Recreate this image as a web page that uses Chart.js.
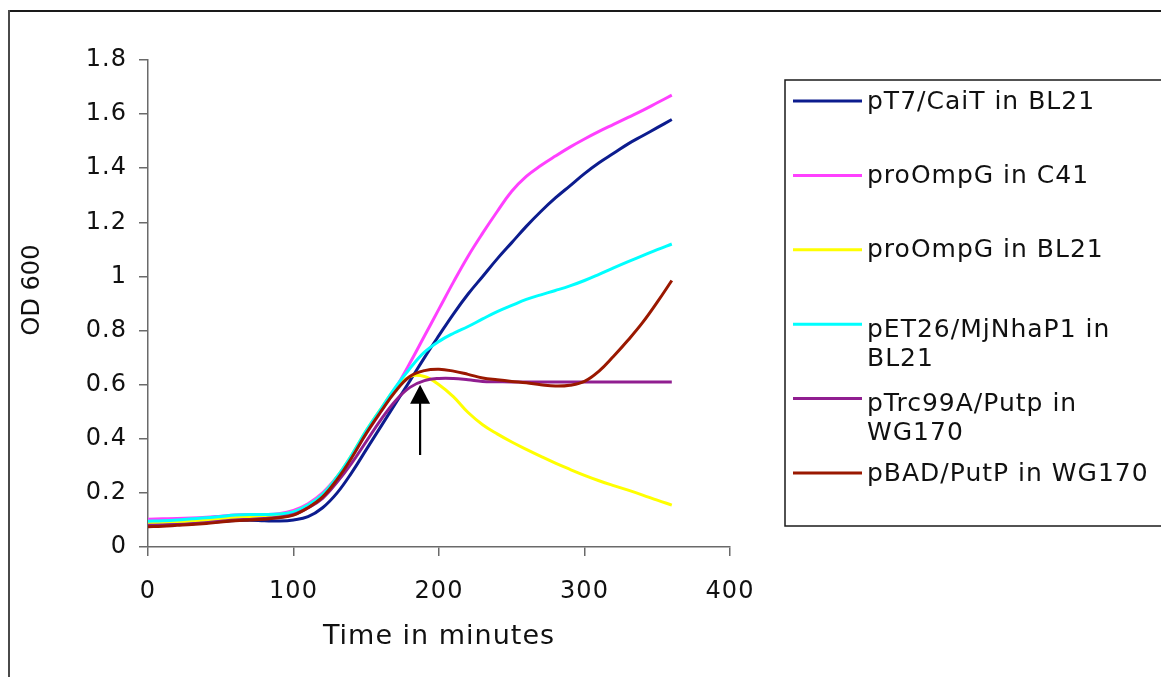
<!DOCTYPE html>
<html>
<head>
<meta charset="utf-8">
<script src="https://cdn.jsdelivr.net/npm/chart.js@4.4.1/dist/chart.umd.min.js"></script>
<style>
  html, body { margin: 0; padding: 0; background: #ffffff; }
  #wrap { position: relative; width: 1161px; height: 677px; }
  canvas { display: block; }
</style>
</head>
<body>
<div id="wrap"><canvas id="growth" width="1161" height="677"></canvas></div>
<script>
// Sampling times (minutes after inoculation), every 10 minutes
const minutes = [0, 10, 20, 30, 40, 50, 60, 70, 80, 90, 100, 110, 120, 130, 140, 150, 160, 170, 180,
                 190, 200, 210, 220, 230, 240, 250, 260, 270, 280, 290, 300, 310, 320, 330, 340, 350, 360];

// Strain / construct names
const seriesNames = [
  'pT7/CaiT in BL21',
  'proOmpG in C41',
  'proOmpG in BL21',
  'pET26/MjNhaP1 in BL21',
  'pTrc99A/Putp in WG170',
  'pBAD/PutP in WG170'
];

// OD600 readings per culture
const caiT_BL21  = [0.080, 0.081, 0.083, 0.086, 0.090, 0.094, 0.098, 0.099, 0.097, 0.096, 0.100, 0.112, 0.145, 0.200, 0.275, 0.360, 0.445, 0.530, 0.614,
                    0.700, 0.782, 0.862, 0.935, 1.000, 1.065, 1.125, 1.185, 1.240, 1.290, 1.335, 1.380, 1.420, 1.455, 1.490, 1.520, 1.550, 1.580];
const ompG_C41   = [0.103, 0.104, 0.105, 0.107, 0.110, 0.114, 0.118, 0.120, 0.120, 0.123, 0.135, 0.160, 0.200, 0.260, 0.335, 0.420, 0.500, 0.585, 0.680,
                    0.780, 0.880, 0.980, 1.075, 1.160, 1.240, 1.315, 1.370, 1.410, 1.445, 1.478, 1.508, 1.536, 1.562, 1.588, 1.614, 1.642, 1.670];
const ompG_BL21  = [0.090, 0.091, 0.093, 0.096, 0.100, 0.104, 0.108, 0.112, 0.115, 0.120, 0.130, 0.155, 0.195, 0.260, 0.340, 0.430, 0.510, 0.585, 0.630,
                    0.630, 0.600, 0.555, 0.497, 0.452, 0.418, 0.388, 0.361, 0.335, 0.310, 0.287, 0.265, 0.245, 0.227, 0.210, 0.192, 0.173, 0.155];
const nhaP1_BL21 = [0.095, 0.097, 0.100, 0.104, 0.108, 0.113, 0.118, 0.120, 0.120, 0.122, 0.130, 0.155, 0.195, 0.260, 0.340, 0.430, 0.510, 0.590, 0.660,
                    0.720, 0.760, 0.790, 0.815, 0.843, 0.870, 0.893, 0.915, 0.932, 0.948, 0.965, 0.985, 1.008, 1.032, 1.055, 1.077, 1.099, 1.120];
const trcPutP    = [0.080, 0.081, 0.083, 0.086, 0.090, 0.095, 0.100, 0.102, 0.105, 0.110, 0.120, 0.145, 0.180, 0.240, 0.310, 0.390, 0.470, 0.540, 0.590,
                    0.615, 0.623, 0.623, 0.618, 0.612, 0.611, 0.610, 0.610, 0.610, 0.610, 0.610, 0.610, 0.610, 0.610, 0.610, 0.610, 0.610, 0.610];
const badPutP    = [0.075, 0.077, 0.080, 0.083, 0.087, 0.092, 0.097, 0.100, 0.103, 0.108, 0.118, 0.145, 0.185, 0.250, 0.330, 0.420, 0.500, 0.575, 0.630,
                    0.652, 0.657, 0.650, 0.638, 0.625, 0.618, 0.612, 0.607, 0.600, 0.595, 0.598, 0.612, 0.650, 0.705, 0.765, 0.830, 0.905, 0.985];

const seriesValues = [caiT_BL21, ompG_C41, ompG_BL21, nhaP1_BL21, trcPutP, badPutP];
const seriesColors = ['#0c1c8e', '#ff40ff', '#ffff00', '#00ffff', '#901e90', '#9a1800'];

// Axis ticks
const xTicks = [0, 100, 200, 300, 400];
const yTicks = [0, 0.2, 0.4, 0.6, 0.8, 1.0, 1.2, 1.4, 1.6, 1.8];
const yTickLabels = ['0', '0.2', '0.4', '0.6', '0.8', '1', '1.2', '1.4', '1.6', '1.8'];

// Induction marker (minutes, OD range of the arrow)
const inductionTime = 187;
const arrowFrom = 0.34;
const arrowTo = 0.60;

const FONT = "'DejaVu Sans', Verdana, sans-serif";
const AXIS_GREY = '#6a6a6a';

const datasets = seriesNames.map((name, i) => ({
  label: name,
  data: minutes.map((t, k) => ({ x: t, y: seriesValues[i][k] })),
  borderColor: seriesColors[i],
  backgroundColor: seriesColors[i],
  borderWidth: 3,
  pointRadius: 0,
  tension: 0.4,
  fill: false,
  order: seriesNames.length - i
}));

// Outer frame of the figure
const framePlugin = {
  id: 'frame',
  beforeDraw(chart) {
    const ctx = chart.ctx;
    ctx.save();
    ctx.fillStyle = '#ffffff';
    ctx.fillRect(0, 0, chart.width, chart.height);
    ctx.lineWidth = 2;
    ctx.strokeStyle = '#1a1a1a';
    ctx.beginPath();
    ctx.moveTo(9, 11);
    ctx.lineTo(chart.width + 2, 11);
    ctx.stroke();
    ctx.strokeStyle = '#4a4a4a';
    ctx.beginPath();
    ctx.moveTo(9, 10);
    ctx.lineTo(9, chart.height + 2);
    ctx.stroke();
    ctx.restore();
    ctx.letterSpacing = '1px';
  }
};

// Arrow marking the induction point
const arrowPlugin = {
  id: 'inductionArrow',
  afterDatasetsDraw(chart) {
    const ctx = chart.ctx;
    const xs = chart.scales.x, ys = chart.scales.y;
    const px = xs.getPixelForValue(inductionTime);
    const yTail = ys.getPixelForValue(arrowFrom);
    const yTip = ys.getPixelForValue(arrowTo);
    ctx.save();
    ctx.strokeStyle = '#000';
    ctx.fillStyle = '#000';
    ctx.lineWidth = 2.2;
    ctx.beginPath();
    ctx.moveTo(px, yTail);
    ctx.lineTo(px, yTip + 12);
    ctx.stroke();
    ctx.beginPath();
    ctx.moveTo(px, yTip);
    ctx.lineTo(px - 10, yTip + 19);
    ctx.lineTo(px + 10, yTip + 19);
    ctx.closePath();
    ctx.fill();
    ctx.restore();
  }
};

// Y axis title
const yTitlePlugin = {
  id: 'yTitle',
  afterDraw(chart) {
    const ctx = chart.ctx;
    ctx.save();
    ctx.translate(33, 290);
    ctx.rotate(-Math.PI / 2);
    ctx.font = '24px ' + FONT;
    ctx.letterSpacing = '0px';
    ctx.fillStyle = '#111';
    ctx.textAlign = 'center';
    ctx.textBaseline = 'middle';
    ctx.fillText('OD 600', 0, 0);
    ctx.restore();
  }
};

// Boxed legend on the right with wrapped labels
const legendPlugin = {
  id: 'boxLegend',
  afterDraw(chart) {
    const ctx = chart.ctx;
    const left = 785, top = 80, bottom = 526;
    ctx.save();
    ctx.lineWidth = 1.5;
    ctx.strokeStyle = '#1a1a1a';
    ctx.strokeRect(left, top, chart.width + 10 - left, bottom - top);
    ctx.font = '25px ' + FONT;
    ctx.letterSpacing = '1px';
    ctx.fillStyle = '#111';
    ctx.textAlign = 'left';
    ctx.textBaseline = 'middle';
    const maxW = 300, lineH = 29, step = 74.4;
    chart.data.datasets.forEach((ds, i) => {
      const sy = 101 + i * step;
      ctx.strokeStyle = ds.borderColor;
      ctx.lineWidth = 3;
      ctx.beginPath();
      ctx.moveTo(793, sy);
      ctx.lineTo(862, sy);
      ctx.stroke();
      const words = ds.label.split(' ');
      const lines = [];
      let cur = '';
      words.forEach(w => {
        const test = cur ? cur + ' ' + w : w;
        if (cur && ctx.measureText(test).width > maxW) { lines.push(cur); cur = w; }
        else cur = test;
      });
      lines.push(cur);
      const y0 = sy + (lines.length > 1 ? 6 : 1);
      lines.forEach((ln, k) => ctx.fillText(ln, 867, y0 + k * lineH));
    });
    ctx.restore();
  }
};

new Chart(document.getElementById('growth'), {
  type: 'line',
  data: { datasets },
  plugins: [framePlugin, arrowPlugin, yTitlePlugin, legendPlugin],
  options: {
    responsive: false,
    devicePixelRatio: 1,
    animation: false,
    layout: { padding: { left: 0, top: 60, right: 431, bottom: 0 } },
    plugins: { legend: { display: false }, tooltip: { enabled: false } },
    scales: {
      x: {
        type: 'linear',
        min: xTicks[0],
        max: xTicks[xTicks.length - 1],
        afterBuildTicks(scale) { scale.ticks = xTicks.map(v => ({ value: v })); },
        afterFit(scale) { scale.height = 130; },
        ticks: { color: '#111', font: { family: FONT, size: 24 }, padding: 21, maxRotation: 0 },
        grid: { drawOnChartArea: false, drawTicks: true, tickLength: 9, color: AXIS_GREY, lineWidth: 1.5 },
        border: { display: true, color: AXIS_GREY, width: 1.5 },
        title: { display: true, text: 'Time in minutes', color: '#111', font: { family: FONT, size: 27 }, padding: { top: 0, bottom: 24 } }
      },
      y: {
        type: 'linear',
        min: yTicks[0],
        max: yTicks[yTicks.length - 1],
        afterBuildTicks(scale) { scale.ticks = yTicks.map(v => ({ value: v })); },
        afterFit(scale) { scale.width = 148; },
        ticks: {
          color: '#111',
          font: { family: FONT, size: 24 },
          padding: 12,
          callback(value) {
            const k = yTicks.findIndex(t => Math.abs(t - value) < 1e-6);
            return k >= 0 ? yTickLabels[k] : '';
          }
        },
        grid: { drawOnChartArea: false, drawTicks: true, tickLength: 9, color: AXIS_GREY, lineWidth: 1.5 },
        border: { display: true, color: AXIS_GREY, width: 1.5 }
      }
    }
  }
});
</script>
</body>
</html>
